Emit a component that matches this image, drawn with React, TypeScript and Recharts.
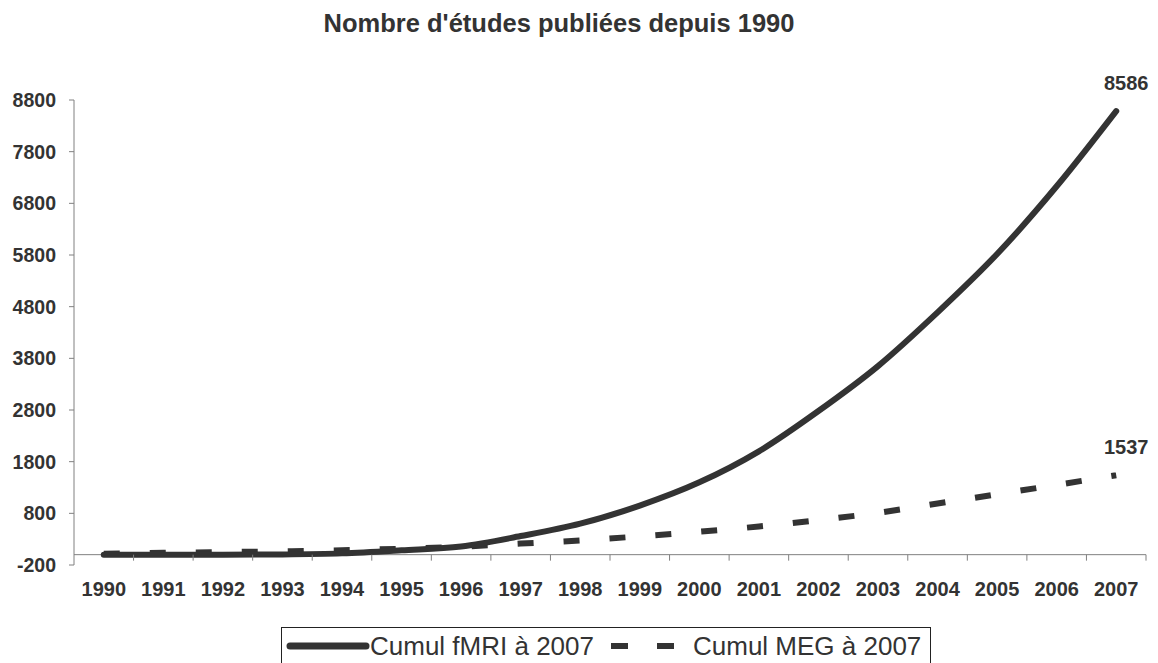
import React from 'react';
import { LineChart, Line, XAxis, YAxis, ReferenceLine, Legend, LabelList } from 'recharts';

const years = ['1990', '1991', '1992', '1993', '1994', '1995', '1996', '1997', '1998', '1999',
    '2000', '2001', '2002', '2003', '2004', '2005', '2006', '2007'];
// cumul fMRI / MEG
const fmriCumul = [0, 0, 0, 5, 25, 85, 160, 360, 600, 950, 1400, 2000, 2780, 3650, 4690, 5820, 7130, 8586];
const megCumul = [20, 35, 50, 65, 85, 115, 155, 215, 275, 355, 445, 545, 670, 810, 990, 1170, 1350, 1537];
const yTicks = [-200, 800, 1800, 2800, 3800, 4800, 5800, 6800, 7800, 8800];

const title = "Nombre d'études publiées depuis 1990";
const fmriName = 'Cumul fMRI à 2007';
const megName = 'Cumul MEG à 2007';

const data = years.map((year, i) => ({ year, fmri: fmriCumul[i], meg: megCumul[i] }));

const W = 1158;
const H = 663;
const FONT = '"Liberation Sans", Arial, sans-serif';
const INK = '#333333';
const AXIS = '#808080';

// zone de tracé
const PLOT_LEFT = 74;
const PLOT_RIGHT = 1146;
const PLOT_TOP = 100;
const PLOT_BOTTOM = 565;
const STEP = (PLOT_RIGHT - PLOT_LEFT) / years.length;
const ZERO_UP = (200 / 9000) * (PLOT_BOTTOM - PLOT_TOP);

const YearTick = (props: any) => {
    const { x, y, payload } = props;
    const axisY = y - ZERO_UP;
    return (
        <g>
            <line x1={x + STEP / 2} x2={x + STEP / 2} y1={axisY} y2={axisY + 6} stroke={AXIS} />
            <text x={x} y={y + 31} textAnchor="middle" fill={INK} fontSize={20} fontWeight="bold" fontFamily={FONT}>
                {payload.value}
            </text>
        </g>
    );
};

const lastLabel = (props: any) => {
    const { x, y, value, index } = props;
    if (index !== years.length - 1) return null;
    return (
        <text x={x + 10} y={y - 21} textAnchor="middle" fill={INK} fontSize={20} fontWeight="bold" fontFamily={FONT}>
            {value}
        </text>
    );
};

const LegendBox = () => (
    <div style={{
        border: '1px solid #222', height: 50, boxSizing: 'border-box', display: 'flex',
        alignItems: 'flex-start', fontFamily: FONT, fontSize: 26, color: INK, whiteSpace: 'nowrap',
    }}>
        <svg width={84} height={20} style={{ marginLeft: 4, marginTop: 8 }}>
            <line x1={4} x2={80} y1={10} y2={10} stroke={INK} strokeWidth={7} strokeLinecap="round" />
        </svg>
        <span style={{ marginTop: 3 }}>{fmriName}</span>
        <svg width={64} height={20} style={{ marginLeft: 17, marginTop: 8 }}>
            <line x1={0} x2={64} y1={10} y2={10} stroke={INK} strokeWidth={6} strokeDasharray="17 29" />
        </svg>
        <span style={{ marginTop: 3, marginLeft: 18 }}>{megName}</span>
    </div>
);

export default function App() {
    return (
        <div style={{ position: 'absolute', left: 0, top: 0, width: W, height: H, background: '#fff', overflow: 'hidden' }}>
            <div style={{
                position: 'absolute', left: 0, width: W - 40, top: 9, textAlign: 'center',
                fontFamily: FONT, fontWeight: 'bold', fontSize: 25.5, color: INK,
            }}>
                {title}
            </div>
            <LineChart width={W} height={H} data={data}
                margin={{ top: PLOT_TOP, right: W - PLOT_RIGHT, left: 0, bottom: 0 }}>
                <XAxis dataKey="year" scale="band" height={H - PLOT_BOTTOM}
                    axisLine={false} tickLine={false} tickSize={0} tickMargin={0}
                    interval={0} tick={<YearTick />} />
                <YAxis width={PLOT_LEFT} domain={[-200, 8800]} ticks={yTicks} interval={0}
                    stroke={AXIS} tickSize={5} tickMargin={13}
                    tick={{ fill: INK, fontSize: 19.5, fontWeight: 'bold', fontFamily: FONT }} />
                <ReferenceLine y={0} stroke={AXIS} />
                <Legend layout="horizontal" verticalAlign="middle" align="center"
                    wrapperStyle={{ left: 281, top: 627, width: 650, height: 50, bottom: 'auto' }}
                    content={<LegendBox />} />
                <Line dataKey="meg" name={megName} type="monotone" stroke={INK} strokeWidth={6}
                    strokeDasharray="16 30" dot={false} isAnimationActive={false}>
                    <LabelList dataKey="meg" content={lastLabel} />
                </Line>
                <Line dataKey="fmri" name={fmriName} type="monotone" stroke={INK} strokeWidth={6}
                    strokeLinecap="round" dot={false} isAnimationActive={false}>
                    <LabelList dataKey="fmri" content={lastLabel} />
                </Line>
            </LineChart>
        </div>
    );
}
